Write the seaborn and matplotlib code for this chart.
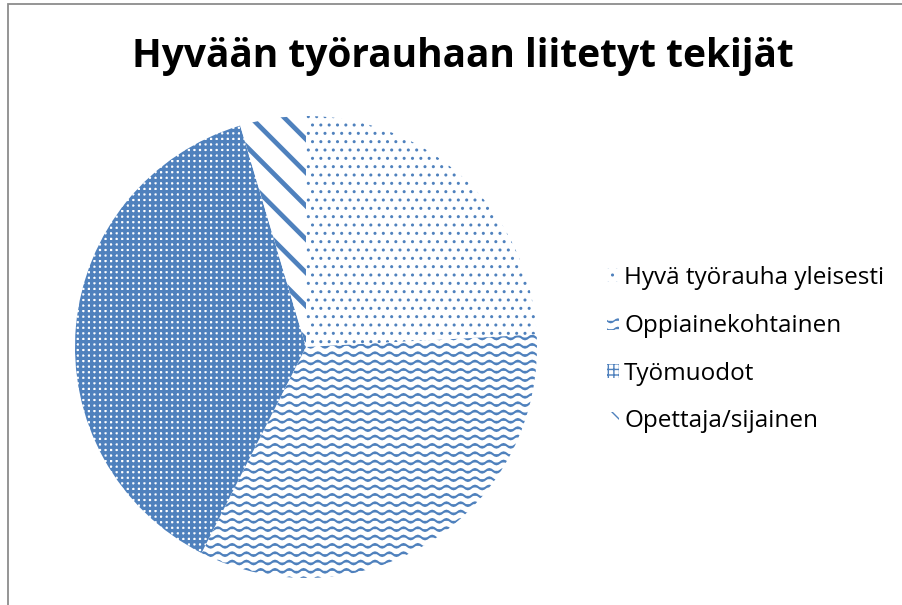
import warnings
import numpy as np
import matplotlib
matplotlib.use('Agg')
import matplotlib.pyplot as plt
import matplotlib.hatch as mhatch
from matplotlib.patches import Rectangle
from matplotlib.path import Path
import seaborn as sns

warnings.filterwarnings('ignore')

# data (answer counts)
categories = ['Hyvä työrauha yleisesti', 'Oppiainekohtainen', 'Työmuodot', 'Opettaja/sijainen']
counts = [21, 29, 33, 4]
chart_title = 'Hyvään työrauhaan liitetyt tekijät'

blue = '#4F81BD'
hatches = ['..', '~~', '+++', '\\']
hatch_widths = [1.0, 1.5, 2.4, 3.4]


# wavy hatch like Excel's "wave" pattern ('~' = one set of rows)
class WaveHatch(mhatch.HatchPatternBase):
    def __init__(self, hatch, density):
        self.num_rows = int(hatch.count('~') * density)
        self.periods = 7
        self.pts = self.periods * 8 + 1
        self.num_vertices = self.num_rows * self.pts

    def set_vertices_and_codes(self, vertices, codes):
        x = np.linspace(0, 1, self.pts)
        for i in range(self.num_rows):
            y0 = (i + 0.5) / self.num_rows
            sl = slice(i * self.pts, (i + 1) * self.pts)
            vertices[sl, 0] = x
            vertices[sl, 1] = y0 + 0.018 * np.sin(2 * np.pi * self.periods * x)
            codes[sl] = Path.LINETO
            codes[i * self.pts] = Path.MOVETO


mhatch._hatch_types.append(WaveHatch)

sns.set_theme(style='white')
plt.rcParams['font.family'] = ['Open Sans', 'DejaVu Sans']

W, H = 903, 605
fig = plt.figure(figsize=(W / 100, H / 100), dpi=100)

# pie: center ~(306, 347) px, radius ~231 px
cx, cy, r = 306, 347, 231
ax = fig.add_axes([(cx - r) / W, (H - cy - r) / H, 2 * r / W, 2 * r / H])
wedges, _ = ax.pie(counts, startangle=90, counterclock=False,
                   colors=['white'] * len(counts),
                   wedgeprops=dict(linewidth=0, edgecolor=blue))
for w, h, lw in zip(wedges, hatches, hatch_widths):
    w.set_hatch(h)
    if hasattr(w, 'set_hatch_linewidth'):
        w.set_hatch_linewidth(lw)
ax.set_xlim(-1, 1)
ax.set_ylim(-1, 1)
ax.set_aspect('equal')
ax.axis('off')

fig.text(463 / W, 1 - 67 / H, chart_title, ha='center', va='baseline',
         fontsize=28, fontweight='bold', color='black')

leg = fig.legend(wedges, categories, loc='upper left',
                 bbox_to_anchor=(607 / W, 1 - 266 / H),
                 frameon=False, fontsize=17.5, borderpad=0, borderaxespad=0,
                 handlelength=0.5, handleheight=0.5, handletextpad=0.2,
                 labelspacing=0.98)
for t in leg.get_texts():
    t.set_color('black')

# chart area border (right/bottom edges fall outside the picture)
fig.add_artist(Rectangle((8 / W, -0.1), 1.2, 1.1 - 4 / H, transform=fig.transFigure,
                         fill=False, edgecolor='#8c8c8c', linewidth=1.3))

fig.savefig('out.png', dpi=100)
